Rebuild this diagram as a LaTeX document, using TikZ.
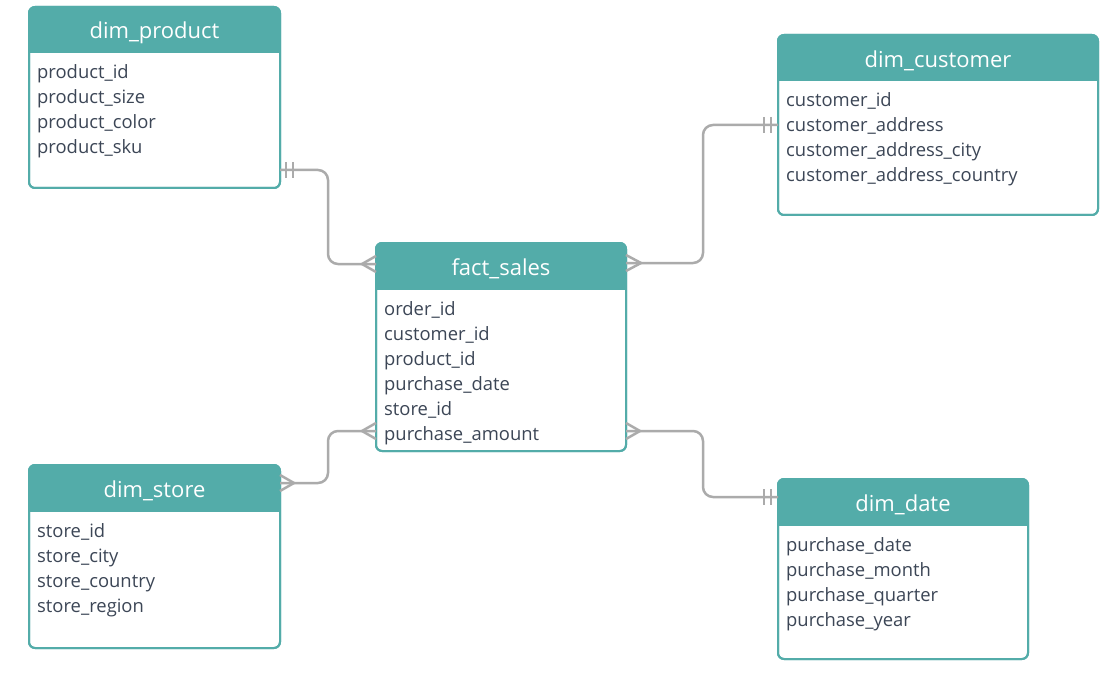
\documentclass[tikz,border=0pt]{standalone}
\usepackage{fontspec}
\setmainfont{Open Sans}
\usetikzlibrary{calc}
\definecolor{hdrcol}{HTML}{53ACA9}
\definecolor{txtcol}{HTML}{3C4656}
\definecolor{conncol}{HTML}{ABABAB}
\tikzset{
  tbl/.style={draw=hdrcol, line width=2pt, rounded corners=6pt, fill=white, inner sep=0pt, outer sep=0pt},
  ttl/.style={text=white, font=\fontsize{22}{26}\selectfont, inner sep=0pt},
  rowtxt/.style={text=txtcol, font=\fontsize{18.4}{22}\selectfont, inner sep=0pt, anchor=base west},
  conn/.style={draw=conncol, line width=2.5pt, rounded corners=10pt},
  endmark/.style={draw=conncol, line width=2.5pt}
}
% name, left, top, width, height, title, rows
\newcommand\ertable[7]{%
  \node[tbl, minimum width=#4pt, minimum height=#5pt, anchor=north west] (#1) at (#2,#3) {};
  \begin{scope}
    \clip (#2-2,#3-2) rectangle (#2+#4+2,#3+46);
    \fill[hdrcol, rounded corners=6pt] (#1.north west) rectangle (#1.south east);
  \end{scope}
  \draw[hdrcol, line width=2pt, rounded corners=6pt] (#1.north west) rectangle (#1.south east);
  \node[ttl] (#1t) at ($(#1.north)+(0,25.5)$) {#6};
  \foreach \r [count=\i] in {#7} {
    \node[rowtxt] (#1r\i) at ($(#1.north west)+(8,72+25*\i-25)$) {\r};
  }
}
\begin{document}
\begin{tikzpicture}[x=1pt,y=-1pt]
\useasboundingbox (0,0) rectangle (1120,674);

\ertable{prod}{29}{7}{251}{181}{dim\_product}{product\_id,product\_size,product\_color,product\_sku}
\ertable{cust}{778}{35}{320}{180}{dim\_customer}{customer\_id,customer\_address,customer\_address\_city,customer\_address\_country}
\ertable{fact}{376}{243}{250}{208}{fact\_sales}{order\_id,customer\_id,product\_id,purchase\_date,store\_id,purchase\_amount}
\ertable{store}{29}{465}{251}{183}{dim\_store}{store\_id,store\_city,store\_country,store\_region}
\ertable{date}{778}{479}{250}{180}{dim\_date}{purchase\_date,purchase\_month,purchase\_quarter,purchase\_year}

% connector product - fact
\draw[conn] (prod.east |- 0,170) -- (328,170) -- (328,264) -- (fact.west |- 0,264);
\draw[endmark] (286,162) -- (286,178) (293,162) -- (293,178);
\draw[endmark] (fact.west |- 0,256) -- (362,264) -- (fact.west |- 0,272);
% connector fact - customer
\draw[conn] (fact.east |- 0,263) -- (703,263) -- (703,125) -- (cust.west |- 0,125);
\draw[endmark] (764,117) -- (764,133) (771,117) -- (771,133);
\draw[endmark] (fact.east |- 0,255) -- (641,263) -- (fact.east |- 0,271);
% connector store - fact
\draw[conn] (store.east |- 0,483) -- (328,483) -- (328,431) -- (fact.west |- 0,431);
\draw[endmark] (store.east |- 0,475) -- (294,483) -- (store.east |- 0,491);
\draw[endmark] (fact.west |- 0,423) -- (362,431) -- (fact.west |- 0,439);
% connector fact - date
\draw[conn] (fact.east |- 0,431) -- (703,431) -- (703,497) -- (date.west |- 0,497);
\draw[endmark] (764,489) -- (764,505) (771,489) -- (771,505);
\draw[endmark] (fact.east |- 0,423) -- (640,431) -- (fact.east |- 0,439);
\end{tikzpicture}
\end{document}
